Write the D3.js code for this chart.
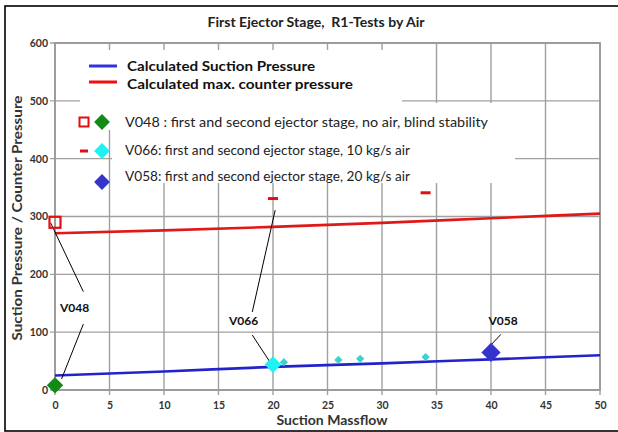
<!DOCTYPE html>
<html>
<head>
<meta charset="utf-8">
<script src="https://cdn.jsdelivr.net/npm/d3@7"></script>
<style>
  body { margin: 0; background: #fff; }
  svg { display: block; font-family: Lato, "Open Sans", sans-serif; }
  .title { white-space: pre; }
</style>
</head>
<body>
<script>
// axis ticks
var xTicks = [0, 5, 10, 15, 20, 25, 30, 35, 40, 45, 50];
var yTicks = [0, 100, 200, 300, 400, 500, 600];

// calculated curves
var calcX = [0, 10, 20, 30, 40, 50];
var suctionCalc = [25, 32, 40, 46, 53, 60];
var counterCalc = [271, 276, 282, 289, 297, 305];

// measured points
var v048Counter = [[0, 290]];
var v048Suction = [[0, 8]];
var v066Counter = [[20, 331], [34, 341]];
var v066Suction = [[20, 44]];
var v066Small = [[21, 48], [26, 52], [28, 54], [34, 57]];
var v058Suction = [[40, 65]];

// annotation labels and leader lines (data units)
var annoLabels = ["V048", "V066", "V058"];
var annoPos = [[1.8, 142], [17.3, 121], [41.1, 121]];
var annoLines = [
  [[2.6, 170], [-0.4, 289]],
  [[2.6, 114], [0.6, 19]],
  [[18.1, 135], [20.2, 311]],
  [[18.1, 95], [19.7, 49]],
  [[40.9, 96], [39.9, 76]]
];

var legendLines = ["Calculated Suction Pressure", "Calculated max. counter pressure"];
var legendMarks = [
  "V048 : first and second ejector stage, no air, blind stability",
  "V066: first and second ejector stage, 10 kg/s air",
  "V058: first and second ejector stage, 20 kg/s air"
];

var W = 618, H = 432;
var x = d3.scaleLinear().domain([0, 50]).range([55, 600]);
var y = d3.scaleLinear().domain([0, 600]).range([390, 43]);

var svg = d3.select("body").append("svg")
    .attr("width", W)
    .attr("height", H);

// outer frame
svg.append("rect")
    .attr("x", 5).attr("y", 6)
    .attr("width", 620).attr("height", 425)
    .attr("fill", "none")
    .attr("stroke", "#000")
    .attr("stroke-width", 1.6);

// title
svg.append("text")
    .attr("class", "title")
    .attr("x", 316).attr("y", 27)
    .attr("text-anchor", "middle")
    .attr("font-size", 13)
    .attr("font-weight", "bold")
    .attr("fill", "#222")
    .attr("textLength", 217)
    .attr("lengthAdjust", "spacingAndGlyphs")
    .text("First Ejector Stage,  R1-Tests by Air");

// grid
var grid = svg.append("g").attr("class", "grid")
    .attr("stroke", "#a0a0a0")
    .attr("stroke-width", 1.4);

grid.selectAll(".gx")
    .data(xTicks)
    .enter().append("line")
    .attr("x1", function(d) { return x(d); })
    .attr("x2", function(d) { return x(d); })
    .attr("y1", y(600))
    .attr("y2", y(0) + 5);

grid.selectAll(".gy")
    .data(yTicks)
    .enter().append("line")
    .attr("x1", x(0) - 5)
    .attr("x2", x(50))
    .attr("y1", function(d) { return y(d); })
    .attr("y2", function(d) { return y(d); });

// plot frame
svg.append("rect")
    .attr("x", x(0)).attr("y", y(600))
    .attr("width", x(50) - x(0)).attr("height", y(0) - y(600))
    .attr("fill", "none")
    .attr("stroke", "#999")
    .attr("stroke-width", 1.8);

// legend background boxes (they hide the grid)
svg.append("rect")
    .attr("x", 80).attr("y", 50)
    .attr("width", 322).attr("height", 80)
    .attr("fill", "#fff");
svg.append("rect")
    .attr("x", 112).attr("y", 103)
    .attr("width", 403).attr("height", 80)
    .attr("fill", "#fff");

// axes (labels only)
var xAxis = d3.axisBottom(x).tickValues(xTicks).tickSize(0).tickPadding(12);
var yAxis = d3.axisLeft(y).tickValues(yTicks).tickSize(0).tickPadding(7);

svg.append("g")
    .attr("transform", "translate(0," + y(0) + ")")
    .call(xAxis)
    .call(function(g) { g.select(".domain").remove(); });

svg.append("g")
    .attr("transform", "translate(" + x(0) + ",0)")
    .call(yAxis)
    .call(function(g) { g.select(".domain").remove(); });

svg.selectAll(".tick text")
    .attr("font-family", "Lato, sans-serif")
    .attr("font-size", 10.5)
    .attr("font-weight", "bold")
    .attr("fill", "#333");

// axis titles
svg.append("text")
    .attr("x", 332).attr("y", 425)
    .attr("text-anchor", "middle")
    .attr("font-size", 14)
    .attr("font-weight", "bold")
    .attr("fill", "#333")
    .attr("textLength", 111)
    .attr("lengthAdjust", "spacingAndGlyphs")
    .text("Suction Massflow");

svg.append("text")
    .attr("transform", "translate(22,218) rotate(-90)")
    .attr("text-anchor", "middle")
    .attr("font-size", 14)
    .attr("font-weight", "bold")
    .attr("fill", "#333")
    .attr("textLength", 245)
    .attr("lengthAdjust", "spacingAndGlyphs")
    .text("Suction Pressure / Counter Pressure");

// calculated lines
var line = d3.line()
    .x(function(d) { return x(d[0]); })
    .y(function(d) { return y(d[1]); })
    .curve(d3.curveMonotoneX);

svg.append("path")
    .datum(calcX.map(function(v, i) { return [v, counterCalc[i]]; }))
    .attr("fill", "none")
    .attr("stroke", "#e01818")
    .attr("stroke-width", 2.6)
    .attr("d", line);

svg.append("path")
    .datum(calcX.map(function(v, i) { return [v, suctionCalc[i]]; }))
    .attr("fill", "none")
    .attr("stroke", "#2323cc")
    .attr("stroke-width", 2.6)
    .attr("d", line);

// annotation leaders
svg.selectAll(".lead")
    .data(annoLines)
    .enter().append("line")
    .attr("x1", function(d) { return x(d[0][0]); })
    .attr("y1", function(d) { return y(d[0][1]); })
    .attr("x2", function(d) { return x(d[1][0]); })
    .attr("y2", function(d) { return y(d[1][1]); })
    .attr("stroke", "#000")
    .attr("stroke-width", 1);

svg.selectAll(".anno")
    .data(annoLabels)
    .enter().append("text")
    .attr("x", function(d, i) { return x(annoPos[i][0]); })
    .attr("y", function(d, i) { return y(annoPos[i][1]) + 4.5; })
    .attr("text-anchor", "middle")
    .attr("font-size", 12)
    .attr("font-weight", "bold")
    .attr("fill", "#111")
    .text(function(d) { return d; });

// markers
var diamond = function(size) { return d3.symbol().type(d3.symbolSquare).size(size)(); };

function diamonds(data, size, color) {
  svg.selectAll(null)
      .data(data)
      .enter().append("path")
      .attr("d", diamond(size))
      .attr("transform", function(d) { return "translate(" + x(d[0]) + "," + y(d[1]) + ") rotate(45)"; })
      .attr("fill", color);
}

svg.selectAll(null)
    .data(v048Counter)
    .enter().append("rect")
    .attr("x", function(d) { return x(d[0]) - 5.5; })
    .attr("y", function(d) { return y(d[1]) - 5.5; })
    .attr("width", 11).attr("height", 11)
    .attr("fill", "none")
    .attr("stroke", "#e01010")
    .attr("stroke-width", 2.2);

svg.selectAll(null)
    .data(v066Counter)
    .enter().append("rect")
    .attr("x", function(d) { return x(d[0]) - 5; })
    .attr("y", function(d) { return y(d[1]) - 1.5; })
    .attr("width", 10).attr("height", 3)
    .attr("fill", "#e01010");

diamonds(v066Small, 34, "#3fd0d0");
diamonds(v048Suction, 135, "#138a13");
diamonds(v066Suction, 140, "#1ef2f2");
diamonds(v058Suction, 185, "#3434cc");

// legend: calculated lines
var legLineColors = ["#3333dd", "#ee1111"];
var legLineY = [66, 82];
legendLines.forEach(function(t, i) {
  svg.append("line")
      .attr("x1", 89).attr("x2", 117)
      .attr("y1", legLineY[i]).attr("y2", legLineY[i])
      .attr("stroke", legLineColors[i])
      .attr("stroke-width", 3);
  svg.append("text")
      .attr("x", 127).attr("y", legLineY[i] + 4.5 + i * 2)
      .attr("font-size", 14)
      .attr("font-weight", "bold")
      .attr("fill", "#111")
      .attr("textLength", i === 0 ? 188 : 226)
      .attr("lengthAdjust", "spacingAndGlyphs")
      .text(t);
});

// legend: measured points
var legRowY = [122, 150, 176];
var legTextLen = [363, 285, 285];
legendMarks.forEach(function(t, i) {
  svg.append("text")
      .attr("x", 125).attr("y", legRowY[i] + 5)
      .attr("font-size", 14)
      .attr("fill", "#222")
      .attr("textLength", legTextLen[i])
      .attr("lengthAdjust", "spacingAndGlyphs")
      .text(t);
});

svg.append("rect")
    .attr("x", 79.5).attr("y", 117.5)
    .attr("width", 9).attr("height", 9)
    .attr("fill", "#fff")
    .attr("stroke", "#e01010")
    .attr("stroke-width", 2);
svg.append("rect")
    .attr("x", 80).attr("y", 149.5)
    .attr("width", 8).attr("height", 3)
    .attr("fill", "#e01010");

var legDiamonds = [[102, 122, "#138a13"], [102, 151, "#1ef2f2"], [102, 182, "#3434cc"]];
svg.selectAll(null)
    .data(legDiamonds)
    .enter().append("path")
    .attr("d", diamond(125))
    .attr("transform", function(d) { return "translate(" + d[0] + "," + d[1] + ") rotate(45)"; })
    .attr("fill", function(d) { return d[2]; });
</script>
</body>
</html>
